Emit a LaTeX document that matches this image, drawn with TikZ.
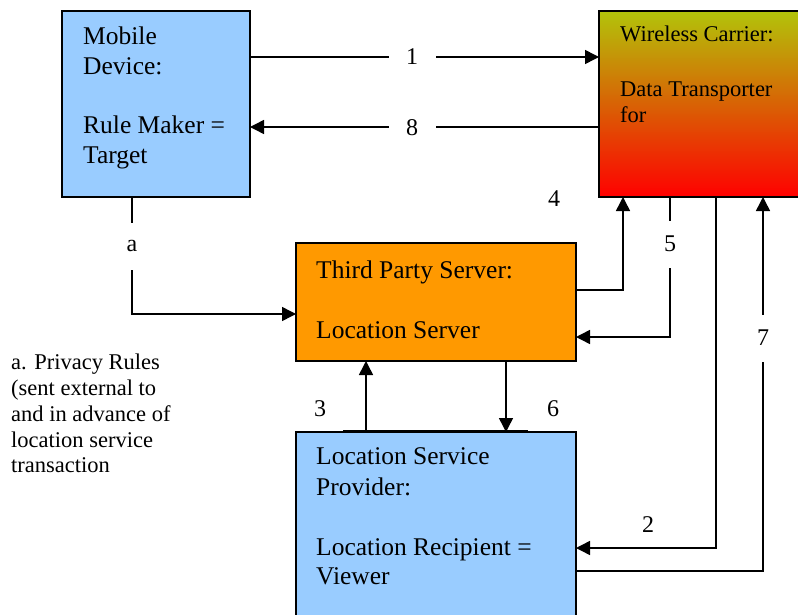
\documentclass[tikz,border=0pt]{standalone}
\usepackage{fontspec}
\setmainfont{Liberation Serif}
\usetikzlibrary{arrows.meta}

\definecolor{devblue}{RGB}{153,204,255}
\definecolor{servorange}{RGB}{255,153,0}
\definecolor{carrtop}{RGB}{178,196,10}
\definecolor{carrmid}{RGB}{232,125,5}
\definecolor{carrbot}{RGB}{255,0,0}

\begin{document}
\begin{tikzpicture}[x=1pt,y=-1pt,
  box/.style={draw=black, line width=1.6pt, outer sep=0pt, inner sep=0pt},
  flow/.style={line width=1.5pt, -{Triangle[length=14pt,width=14pt]}},
  txt/.style={anchor=base west, inner sep=0pt, font=\fontsize{25.5}{30}\selectfont},
  smalltxt/.style={anchor=base west, inner sep=0pt, font=\fontsize{22.5}{26}\selectfont},
  tag/.style={inner sep=0pt, font=\fontsize{24}{28}\selectfont},
  gaptag/.style={tag, fill=white, minimum width=47pt, minimum height=47pt}]
\useasboundingbox (0,0) rectangle (798,615);

% boxes
\node[box, fill=devblue, minimum width=188pt, minimum height=186pt] (mobile) at (156,104) {};
\node[box, top color=carrtop, middle color=carrmid, bottom color=carrbot,
      minimum width=212pt, minimum height=186pt] (carrier) at (705,104) {};
\node[box, fill=servorange, minimum width=280pt, minimum height=118pt] (third) at (436,302) {};
\node[box, fill=devblue, minimum width=280pt, minimum height=210pt] (lsp) at (436,537) {};

% thin rule lying on the top edge of the provider box
\draw[line width=1pt] (lsp.north -| 343,0) ++(0,-1.5) coordinate (rl) -- (rl -| 528,0);

% box texts
\node[txt] (m1) at (83,45) {Mobile};
\node[txt] (m2) at (83,75) {Device:};
\node[txt] (m3) at (83,134) {Rule Maker =};
\node[txt] (m4) at (83,164) {Target};

\node[smalltxt] (w1) at (620,42) {Wireless Carrier:};
\node[smalltxt] (w2) at (620,97) {Data Transporter};
\node[smalltxt] (w3) at (620,123) {for};

\node[txt] (t1) at (316,278) {Third Party Server:};
\node[txt] (t2) at (316,338) {Location Server};

\node[txt] (l1) at (316,464) {Location Service};
\node[txt] (l2) at (316,495) {Provider:};
\node[txt] (l3) at (316,555) {Location Recipient =};
\node[txt] (l4) at (316,584) {Viewer};

\node[smalltxt] (p1) at (11,369) {a. Privacy Rules};
\node[smalltxt] (p2) at (11,395) {(sent external to};
\node[smalltxt] (p3) at (11,421) {and in advance of};
\node[smalltxt] (p4) at (11,447) {location service};
\node[smalltxt] (p5) at (11,472) {transaction};

% connectors
\draw[flow] (mobile.east |- 0,57) -- (carrier.west |- 0,57);
\draw[flow] (carrier.west |- 0,127) -- (mobile.east |- 0,127);
\draw[flow] (mobile.south -| 132,0) |- (third.west |- 0,314);
\draw[flow] (third.east |- 0,290) -| (carrier.south -| 623,0);
\draw[flow] (carrier.south -| 670,0) |- (third.east |- 0,337);
\draw[flow] (carrier.south -| 716,0) |- (lsp.east |- 0,548);
\draw[flow] (lsp.east |- 0,571) -| (carrier.south -| 763,0);
\draw[flow] (lsp.north -| 366,0) -- (third.south -| 366,0);
\draw[flow] (third.south -| 506,0) -- (lsp.north -| 506,0);

% step labels
\node[gaptag] (n1) at (412,57) {1};
\node[gaptag] (n8) at (412,128) {8};
\node[gaptag] (na) at (132,246) {a};
\node[gaptag] (n5) at (670,244) {5};
\node[gaptag] (n7) at (763,338) {7};
\node[tag] (n4) at (554,199) {4};
\node[tag] (n3) at (320,409) {3};
\node[tag] (n6) at (553,409) {6};
\node[tag] (n2) at (648,525) {2};
\end{tikzpicture}
\end{document}
